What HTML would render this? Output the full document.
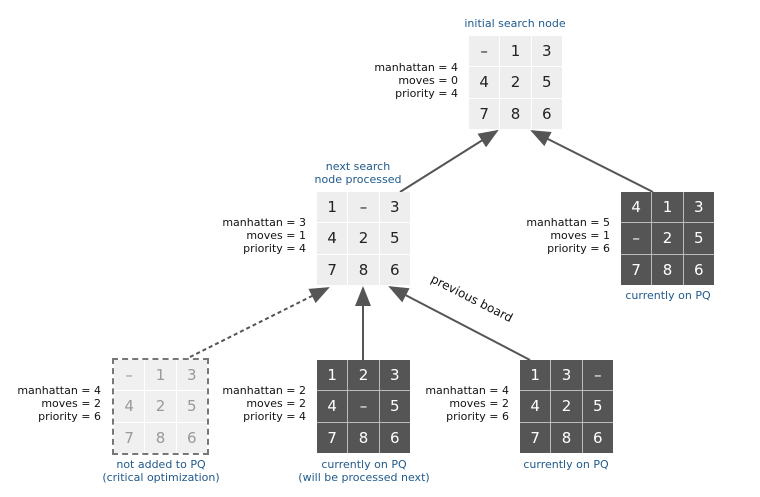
<!DOCTYPE html>
<html><head><style>
body{margin:0;width:760px;height:497px;background:#fff;font-family:"DejaVu Sans","Liberation Sans",sans-serif;position:relative;overflow:hidden}
.b{position:absolute;width:93px;height:93px;display:grid;grid-template-columns:repeat(3,1fr);grid-template-rows:repeat(3,1fr);gap:1px}
.b div{display:flex;align-items:center;justify-content:center;font-size:15px}
.l div{background:#eee;color:#222}
.d{background:#bbb}
.d div{background:#555;color:#fff}
.g div{background:#f0f0f0;color:#999}
.g{outline:2px dashed #777}
.t{position:absolute;font-size:11px;line-height:13px;text-align:right;color:#111;width:120px}
.c{position:absolute;font-size:11px;line-height:13px;text-align:center;color:#1f5a8a;width:200px}
</style></head><body>
<svg width="760" height="497" style="position:absolute;left:0;top:0">
<defs><marker id="a" markerWidth="10" markerHeight="8" refX="9" refY="4" orient="auto"><path d="M0,0L10,4L0,8z" fill="#555"/></marker></defs>
<g stroke="#555" stroke-width="2" fill="none">
<line x1="400" y1="192" x2="497" y2="131" marker-end="url(#a)"/>
<line x1="653" y1="192" x2="532" y2="131" marker-end="url(#a)"/>
<line x1="363" y1="360" x2="363" y2="288" marker-end="url(#a)"/>
<line x1="530" y1="360" x2="390" y2="287" marker-end="url(#a)"/>
<line x1="190" y1="357" x2="328" y2="288" stroke-dasharray="4,3" marker-end="url(#a)"/>
</g>
<text x="470" y="302" font-size="12" fill="#111" transform="rotate(27 470 302)" text-anchor="middle" font-family="DejaVu Sans,sans-serif">previous board</text>
</svg>

<div class="c" style="left:415px;top:17px">initial search node</div>
<div class="t" style="left:338px;top:61px">manhattan = 4<br>moves = 0<br>priority = 4</div>
<div class="b l" style="left:469px;top:36px"><div>–</div><div>1</div><div>3</div><div>4</div><div>2</div><div>5</div><div>7</div><div>8</div><div>6</div></div>

<div class="c" style="left:258px;top:160px">next search<br>node processed</div>
<div class="t" style="left:186px;top:216px">manhattan = 3<br>moves = 1<br>priority = 4</div>
<div class="b l" style="left:317px;top:192px"><div>1</div><div>–</div><div>3</div><div>4</div><div>2</div><div>5</div><div>7</div><div>8</div><div>6</div></div>

<div class="t" style="left:490px;top:216px">manhattan = 5<br>moves = 1<br>priority = 6</div>
<div class="b d" style="left:621px;top:192px"><div>4</div><div>1</div><div>3</div><div>–</div><div>2</div><div>5</div><div>7</div><div>8</div><div>6</div></div>
<div class="c" style="left:568px;top:289px">currently on PQ</div>

<div class="t" style="left:-19px;top:384px">manhattan = 4<br>moves = 2<br>priority = 6</div>
<div class="b g" style="left:114px;top:360px"><div>–</div><div>1</div><div>3</div><div>4</div><div>2</div><div>5</div><div>7</div><div>8</div><div>6</div></div>
<div class="c" style="left:61px;top:458px">not added to PQ<br>(critical optimization)</div>

<div class="t" style="left:186px;top:384px">manhattan = 2<br>moves = 2<br>priority = 4</div>
<div class="b d" style="left:317px;top:360px"><div>1</div><div>2</div><div>3</div><div>4</div><div>–</div><div>5</div><div>7</div><div>8</div><div>6</div></div>
<div class="c" style="left:264px;top:458px">currently on PQ<br>(will be processed next)</div>

<div class="t" style="left:389px;top:384px">manhattan = 4<br>moves = 2<br>priority = 6</div>
<div class="b d" style="left:520px;top:360px"><div>1</div><div>3</div><div>–</div><div>4</div><div>2</div><div>5</div><div>7</div><div>8</div><div>6</div></div>
<div class="c" style="left:466px;top:458px">currently on PQ</div>
</body></html>
